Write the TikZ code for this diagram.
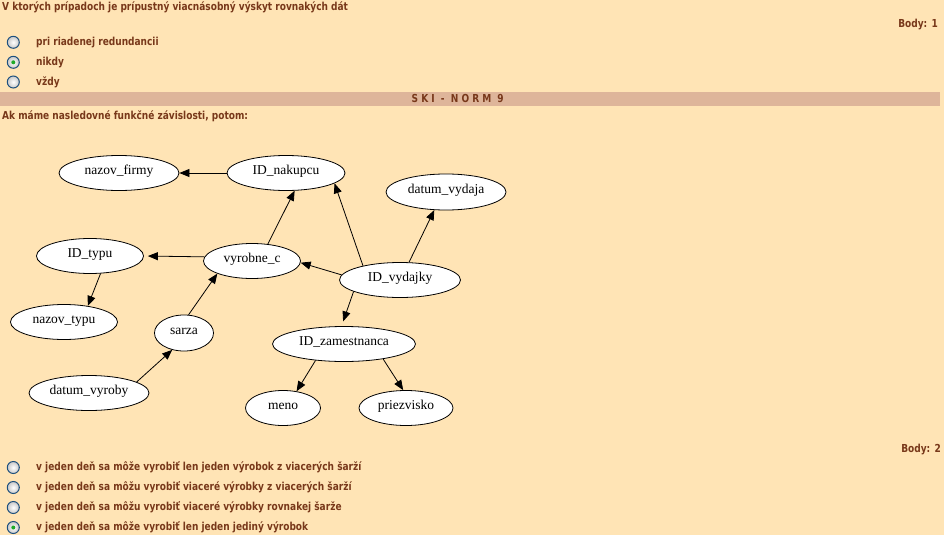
\documentclass[tikz,border=0pt]{standalone}
\usepackage{fontspec}
\setmainfont{Liberation Serif}
\newfontfamily\uifont{DejaVu Sans}[FakeStretch=0.82]
\usetikzlibrary{shapes.geometric,arrows.meta}
\definecolor{bgc}{RGB}{255,228,181}
\definecolor{barc}{RGB}{222,181,154}
\definecolor{txtc}{RGB}{120,56,26}
\definecolor{radioedge}{RGB}{30,80,125}
\definecolor{radiog}{RGB}{200,200,200}
\definecolor{dotc}{RGB}{30,170,40}
\begin{document}
\begin{tikzpicture}[x=1pt,y=-1pt,
 ui/.style={anchor=base west, inner sep=0pt, text=txtc, font=\uifont\bfseries\fontsize{11}{13}\selectfont},
 uir/.style={ui, anchor=base east},
 radio/.style={circle, draw=radioedge, line width=1pt, minimum size=12pt, inner sep=0pt, inner color=white, outer color=radiog},
 seldot/.style={circle, fill=dotc, minimum size=4pt, inner sep=0pt},
 ent/.style={ellipse, draw=black, fill=white, line width=0.8pt, inner sep=0pt, font=\fontsize{13.5}{15}\selectfont, text height=3pt, text depth=0pt},
 fd/.style={-{Triangle[length=10pt,width=8pt]}, line width=0.8pt, draw=black},
]
\fill[bgc] (0,0) rectangle (944,535);
\useasboundingbox (0,0) rectangle (944,535);
% top question
\node[ui] (q1) at (2,11) {V ktorých prípadoch je prípustný viacnásobný výskyt rovnakých dát};
\node[uir] (b1) at (938,27.3) {Body: 1};
\node[radio] (r11) at (13.3,42.3) {};
\node[radio] (r12) at (13.3,62.3) {};
\node[seldot] (d12) at (r12.center) {};
\node[radio] (r13) at (13.3,82) {};
\node[ui] (a11) at (36,45.3) {pri riadenej redundancii};
\node[ui] (a12) at (36,65.3) {nikdy};
\node[ui] (a13) at (36,85.2) {vždy};
% bar
\fill[barc] (0,92) rectangle (940,106);
\node[ui] (bar) at (411.5,102.7) {\addfontfeature{LetterSpace=28}SKI - NORM 9};
\node[ui] (q2) at (2,119) {Ak máme nasledovné funkčné závislosti, potom:};
% graph
\node[ent, minimum width=120pt, minimum height=35pt] (fir) at (119,173) {nazov\_firmy};
\node[ent, minimum width=118pt, minimum height=35pt] (nak) at (286,173) {ID\_nakupcu};
\node[ent, minimum width=120pt, minimum height=36pt] (dvy) at (446,192) {datum\_vydaja};
\node[ent, minimum width=107pt, minimum height=35pt] (typ) at (90,256) {ID\_typu};
\node[ent, minimum width=97pt, minimum height=35pt] (vyr) at (252,261) {vyrobne\_c};
\node[ent, minimum width=121pt, minimum height=35pt] (vyd) at (400,280) {ID\_vydajky};
\node[ent, minimum width=107pt, minimum height=35pt] (nty) at (64,322) {nazov\_typu};
\node[ent, minimum width=59pt, minimum height=36pt] (sar) at (184,333) {sarza};
\node[ent, minimum width=143pt, minimum height=35pt] (zam) at (344,344) {ID\_zamestnanca};
\node[ent, minimum width=120pt, minimum height=35pt] (dvr) at (89,393) {datum\_vyroby};
\node[ent, minimum width=75pt, minimum height=35pt] (men) at (283,408) {meno};
\node[ent, minimum width=94pt, minimum height=35pt] (pri) at (406,408) {priezvisko};
\draw[fd] (nak.west) -- (fir.east);
\draw[fd] (vyr.47) -- (nak.-64);
\draw[fd] (vyd.159) -- (nak.-12);
\draw[fd] (vyd.63) -- (dvy.-123);
\draw[fd, shorten >=4pt] (vyr.175) -- (typ.east);
\draw[fd] (vyd.175) -- (vyr.-2);
\draw[fd] (typ.-59) -- (nty.34);
\draw[fd] (sar.76) -- (vyr.-160);
\draw[fd, shorten >=5pt] (vyd.-166) -- (zam.98);
\draw[fd] (dvr.13) -- (sar.-125);
\draw[fd] (zam.-150) -- (men.51);
\draw[fd] (zam.-21) -- (pri.99);
% bottom answers
\node[uir] (b2) at (941,452) {Body: 2};
\node[radio] (r21) at (13.3,467.5) {};
\node[radio] (r22) at (13.3,487.5) {};
\node[radio] (r23) at (13.3,507.5) {};
\node[radio] (r24) at (13.3,527.5) {};
\node[seldot] (d24) at (r24.center) {};
\node[ui] (a21) at (36,470.7) {v jeden deň sa môže vyrobiť len jeden výrobok z viacerých šarží};
\node[ui] (a22) at (36,490.7) {v jeden deň sa môžu vyrobiť viaceré výrobky z viacerých šarží};
\node[ui] (a23) at (36,510.7) {v jeden deň sa môžu vyrobiť viaceré výrobky rovnakej šarže};
\node[ui] (a24) at (36,530.7) {v jeden deň sa môže vyrobiť len jeden jediný výrobok};
\end{tikzpicture}
\end{document}
